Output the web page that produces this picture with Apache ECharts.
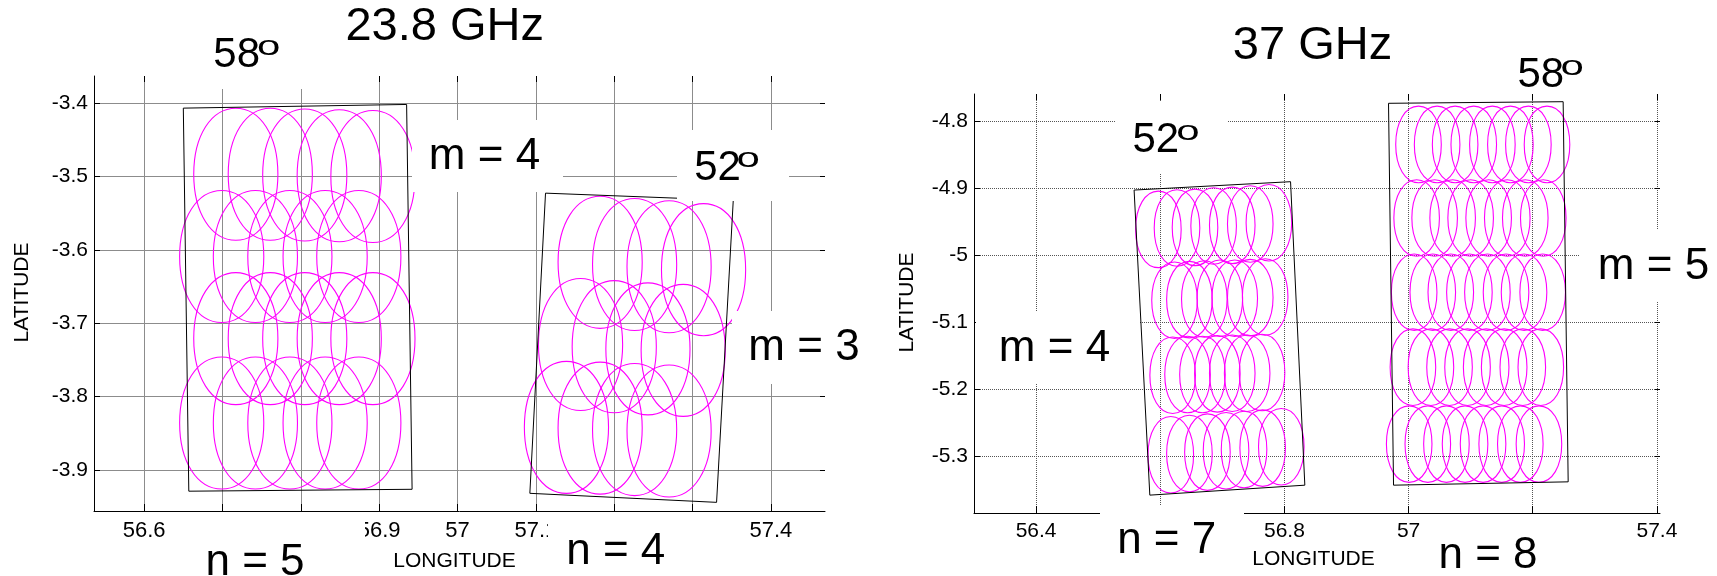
<!DOCTYPE html>
<html>
<head>
<meta charset="utf-8">
<title>Footprint coverage 23.8 GHz / 37 GHz</title>
<script src="https://cdn.jsdelivr.net/npm/echarts@6/dist/echarts.min.js"></script>
<style>
  html, body { margin: 0; padding: 0; background: #ffffff; }
  #chart { width: 1717px; height: 576px; }
</style>
</head>
<body>
<div id="chart"></div>
<script>
// ---- tick values ----
const lonTicks238 = [56.6, 56.7, 56.8, 56.9, 57.0, 57.1, 57.2, 57.3, 57.4];
const latTicks238 = [-3.9, -3.8, -3.7, -3.6, -3.5, -3.4];
const lonTicks37 = [56.4, 56.6, 56.8, 57.0, 57.2, 57.4];
const latTicks37 = [-5.3, -5.2, -5.1, -5.0, -4.9, -4.8];

// ---- 23.8 GHz, 58 deg swath: beam centres [lon, lat], m = 4 rows x n = 5 ----
const beams238_58 = [
  [56.717, -3.497], [56.761, -3.497], [56.805, -3.498], [56.849, -3.499], [56.892, -3.500],
  [56.699, -3.609], [56.742, -3.609], [56.786, -3.609], [56.831, -3.609], [56.874, -3.609],
  [56.717, -3.721], [56.761, -3.721], [56.805, -3.721], [56.849, -3.721], [56.892, -3.721],
  [56.699, -3.836], [56.742, -3.836], [56.786, -3.836], [56.831, -3.836], [56.874, -3.836]
];
// ---- 23.8 GHz, 52 deg swath: m = 3 rows x n = 4 ----
const beams238_52 = [
  [57.182, -3.617], [57.226, -3.620], [57.270, -3.623], [57.314, -3.627],
  [57.157, -3.729], [57.200, -3.732], [57.243, -3.735], [57.288, -3.737],
  [57.139, -3.842], [57.182, -3.843], [57.226, -3.845], [57.270, -3.847]
];
// ---- 37 GHz, 52 deg swath: m = 4 rows x n = 7 ----
const beams37_52 = [
  [56.597, -4.961], [56.627, -4.959], [56.656, -4.958], [56.686, -4.956], [56.716, -4.955], [56.745, -4.953], [56.775, -4.951],
  [56.623, -5.067], [56.647, -5.066], [56.671, -5.065], [56.696, -5.064], [56.720, -5.064], [56.745, -5.063], [56.769, -5.062],
  [56.620, -5.179], [56.644, -5.178], [56.668, -5.178], [56.692, -5.177], [56.716, -5.176], [56.740, -5.176], [56.764, -5.175],
  [56.617, -5.298], [56.647, -5.296], [56.676, -5.294], [56.706, -5.292], [56.735, -5.290], [56.765, -5.288], [56.795, -5.286]
];
// ---- 37 GHz, 58 deg swath: m = 5 rows x n = 8 ----
const beams37_58 = [
  [57.016, -4.834], [57.046, -4.834], [57.075, -4.834], [57.105, -4.834], [57.135, -4.834], [57.164, -4.834], [57.193, -4.834], [57.223, -4.834],
  [57.013, -4.944], [57.042, -4.944], [57.071, -4.944], [57.100, -4.944], [57.129, -4.944], [57.159, -4.944], [57.188, -4.944], [57.217, -4.944],
  [57.009, -5.055], [57.039, -5.055], [57.068, -5.055], [57.098, -5.055], [57.127, -5.055], [57.157, -5.055], [57.186, -5.055], [57.216, -5.055],
  [57.007, -5.167], [57.036, -5.167], [57.066, -5.167], [57.095, -5.167], [57.125, -5.167], [57.154, -5.167], [57.184, -5.167], [57.213, -5.167],
  [57.001, -5.282], [57.031, -5.282], [57.061, -5.282], [57.091, -5.282], [57.120, -5.282], [57.150, -5.282], [57.180, -5.282], [57.210, -5.282]
];

// ---- swath outlines (corners, closed) ----
const swath238_58 = [[56.650, -3.4068], [56.935, -3.4018], [56.942, -3.9264], [56.657, -3.9290], [56.650, -3.4068]];
const swath238_52 = [[57.1123, -3.5227], [57.3519, -3.5325], [57.3306, -3.9442], [57.0923, -3.9319], [57.1123, -3.5227]];
const swath37_52 = [[56.5579, -4.9022], [56.8099, -4.8897], [56.8329, -5.3434], [56.5832, -5.3583], [56.5579, -4.9022]];
const swath37_58 = [[56.9677, -4.7725], [57.2490, -4.7701], [57.2571, -5.3384], [56.9758, -5.3434], [56.9677, -4.7725]];

// ---- footprint semi-axes [lon, lat] in degrees ----
const footprint238 = [0.0537, 0.0900];
const footprint37 = [0.0367, 0.0572];

const FONT = '"Liberation Sans", Arial, Helvetica, sans-serif';
// bezier handle factor: slightly above the circular 0.5523 for a fuller footprint outline
const OUTLINE_K = 0.585;

function footprintPath(cx, cy, rx, ry) {
  const kx = OUTLINE_K * rx, ky = OUTLINE_K * ry;
  return 'M' + (cx + rx) + ' ' + cy +
    'C' + (cx + rx) + ' ' + (cy + ky) + ' ' + (cx + kx) + ' ' + (cy + ry) + ' ' + cx + ' ' + (cy + ry) +
    'C' + (cx - kx) + ' ' + (cy + ry) + ' ' + (cx - rx) + ' ' + (cy + ky) + ' ' + (cx - rx) + ' ' + cy +
    'C' + (cx - rx) + ' ' + (cy - ky) + ' ' + (cx - kx) + ' ' + (cy - ry) + ' ' + cx + ' ' + (cy - ry) +
    'C' + (cx + kx) + ' ' + (cy - ry) + ' ' + (cx + rx) + ' ' + (cy - ky) + ' ' + (cx + rx) + ' ' + cy + 'Z';
}

function footprintRenderer(semi) {
  return function (params, api) {
    const c = api.coord([api.value(0), api.value(1)]);
    const s = api.size([semi[0] * 2, semi[1] * 2]);
    return {
      type: 'path',
      shape: { pathData: footprintPath(c[0], c[1], s[0] / 2, s[1] / 2) },
      style: { fill: 'none', stroke: '#ff00ff', lineWidth: 1.1 }
    };
  };
}

function beamSeries(data, semi, axisIndex) {
  return {
    type: 'custom', xAxisIndex: axisIndex, yAxisIndex: axisIndex,
    renderItem: footprintRenderer(semi), encode: { x: 0, y: 1 },
    data: data, silent: true, z: 3
  };
}

function swathSeries(data, axisIndex) {
  return {
    type: 'line', xAxisIndex: axisIndex, yAxisIndex: axisIndex,
    data: data, symbol: 'none', silent: true, z: 4,
    lineStyle: { color: '#000', width: 1 }
  };
}

function mainX(grid, min, max, ticks, fontSize, margin, gridColor, gridType) {
  return {
    gridIndex: grid, type: 'value', position: 'bottom', min: min, max: max,
    axisLine: { show: true, onZero: false, lineStyle: { color: '#000', width: 1 } },
    axisTick: { show: true, inside: true, length: 7, customValues: ticks, lineStyle: { color: '#000' } },
    axisLabel: { show: true, customValues: ticks, margin: margin, color: '#000', fontSize: fontSize, fontFamily: FONT },
    splitLine: { show: true, lineStyle: { color: gridColor, width: 1, type: gridType } }
  };
}
function topX(grid, min, max, ticks) {
  return {
    gridIndex: grid, type: 'value', position: 'top', min: min, max: max,
    axisLine: { show: false },
    axisTick: { show: true, inside: true, length: 6, customValues: ticks, lineStyle: { color: '#000' } },
    axisLabel: { show: false }, splitLine: { show: false }
  };
}
function mainY(grid, min, max, ticks, fontSize, margin, gridColor, gridType) {
  return {
    gridIndex: grid, type: 'value', position: 'left', min: min, max: max,
    axisLine: { show: true, onZero: false, lineStyle: { color: '#000', width: 1 } },
    axisTick: { show: true, inside: true, length: 6, customValues: ticks, lineStyle: { color: '#000' } },
    axisLabel: { show: true, customValues: ticks, margin: margin, color: '#000', fontSize: fontSize, fontFamily: FONT },
    splitLine: { show: true, lineStyle: { color: gridColor, width: 1, type: gridType } }
  };
}
function rightY(grid, min, max, ticks) {
  return {
    gridIndex: grid, type: 'value', position: 'right', min: min, max: max,
    axisLine: { show: false },
    axisTick: { show: true, inside: true, length: 5, customValues: ticks, lineStyle: { color: '#000' } },
    axisLabel: { show: false }, splitLine: { show: false }
  };
}

// white label boxes and annotation text
function box(x, y, w, h) {
  return { type: 'rect', z: 90, silent: true, shape: { x: x, y: y, width: w, height: h }, style: { fill: '#ffffff' } };
}
function label(text, x, y, size, extra) {
  const el = {
    type: 'text', z: 100, silent: true, x: x, y: y,
    style: { text: text, fill: '#000', font: size + 'px ' + FONT, align: 'center', verticalAlign: 'middle' }
  };
  return Object.assign(el, extra || {});
}
function degreeLabel(num, nx, ny, ox, oy) {
  return [
    label(num, nx, ny, 42),
    label('o', ox, oy - 2.5, 42, { scaleY: 0.68 })
  ];
}

const graphics = [
  // 23.8 GHz panel
  box(200, 30, 115, 59),
  box(412, 120, 151, 72),
  box(677, 130, 112, 71),
  box(732, 311, 130, 73),
  box(185, 514, 180, 62),
  box(548, 514, 187, 62),
  // 37 GHz panel
  box(1116, 102, 112, 71),
  box(1580, 230, 137, 72),
  box(976, 311, 163, 72),
  box(1100, 505, 144, 71),
  box(1422, 516, 210, 60),

  label('23.8 GHz', 444.7, 27, 47),
  label('37 GHz', 1312.5, 46, 47),
  ...degreeLabel('58', 236.7, 55.5, 268.8, 49.2),
  ...degreeLabel('52', 717.5, 168, 748.3, 161.7),
  ...degreeLabel('52', 1155.8, 140.5, 1188, 134.2),
  ...degreeLabel('58', 1540.8, 75.5, 1572.2, 69.5),
  label('m = 4', 484.5, 156.5, 44),
  label('m = 3', 804, 348, 44),
  label('n = 5', 255, 562.5, 44),
  label('n = 4', 615.8, 552, 44),
  label('m = 4', 1054.5, 349, 44),
  label('m = 5', 1653.5, 267, 44),
  label('n = 7', 1166.7, 541, 44),
  label('n = 8', 1488, 556, 44),
  label('LONGITUDE', 454.5, 561, 21),
  label('LONGITUDE', 1313.5, 559.5, 21),
  label('LATITUDE', 22.5, 292.5, 21, { rotation: Math.PI / 2 }),
  label('LATITUDE', 907.5, 302.5, 21, { rotation: Math.PI / 2 })
];

const chart = echarts.init(document.getElementById('chart'), null, { renderer: 'canvas' });
chart.setOption({
  animation: false,
  backgroundColor: '#ffffff',
  grid: [
    { left: 94, top: 76, width: 731, height: 435, containLabel: false },
    { left: 974, top: 94, width: 686, height: 419, containLabel: false }
  ],
  xAxis: [
    mainX(0, 56.536, 57.469, lonTicks238, 22, 9, '#8c8c8c', 'solid'),
    topX(0, 56.536, 57.469, lonTicks238),
    mainX(1, 56.3, 57.405, lonTicks37, 21, 8, '#555555', [1, 1]),
    topX(1, 56.3, 57.405, lonTicks37)
  ],
  yAxis: [
    mainY(0, -3.956, -3.363, latTicks238, 21, 6, '#8c8c8c', 'solid'),
    rightY(0, -3.956, -3.363, latTicks238),
    mainY(1, -5.385, -4.7586, latTicks37, 21, 6, '#555555', [1, 1]),
    rightY(1, -5.385, -4.7586, latTicks37)
  ],
  series: [
    beamSeries(beams238_58, footprint238, 0),
    beamSeries(beams238_52, footprint238, 0),
    swathSeries(swath238_58, 0),
    swathSeries(swath238_52, 0),
    beamSeries(beams37_52, footprint37, 2),
    beamSeries(beams37_58, footprint37, 2),
    swathSeries(swath37_52, 2),
    swathSeries(swath37_58, 2)
  ],
  graphic: { elements: graphics }
});
</script>
</body>
</html>
